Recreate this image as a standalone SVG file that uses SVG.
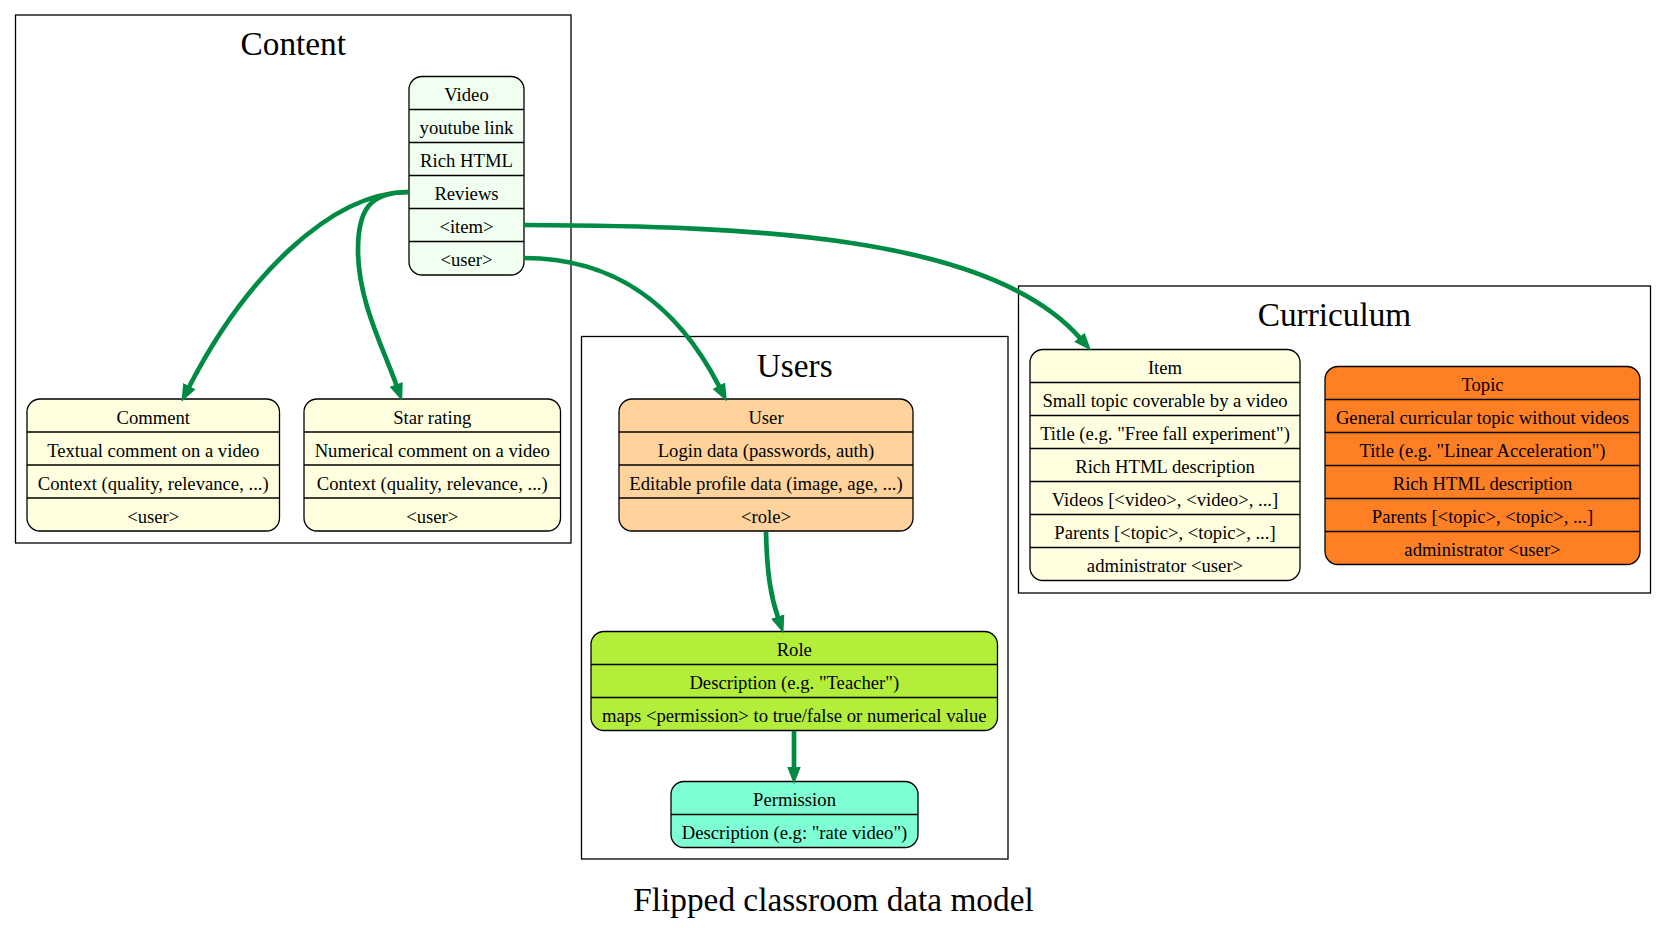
<svg xmlns="http://www.w3.org/2000/svg" width="1667" height="928" viewBox="0 0 1667 928">
<style>
.cluster{fill:none;stroke:#000;stroke-width:1.3}
.ctitle{font-family:"Liberation Serif","Times New Roman",serif;font-size:33.3px;text-anchor:middle;fill:#000}
.box{stroke:#000;stroke-width:1.3}
.sep{stroke:#000;stroke-width:1.3}
.t{font-family:"Liberation Serif","Times New Roman",serif;font-size:18.67px;text-anchor:middle;fill:#000}
.edge{fill:none;stroke:#008B45;stroke-width:4.7;marker-end:url(#arr)}
.honeydew{fill:#F0FFF0}
.lyellow{fill:#FFFFE0}
.burly{fill:#FFD39B}
.olive{fill:#B3EE3A}
.aqua{fill:#7FFFD4}
.choc{fill:#FF7F24}
</style>
<defs>
<marker id="arr" markerUnits="userSpaceOnUse" viewBox="-1 -8 17 16" refX="0" refY="0" markerWidth="17" markerHeight="16" orient="auto">
<path d="M0,-5.5 L14,0 L0,5.5 z" fill="#008B45" stroke="#008B45" stroke-width="2"/>
</marker>
</defs>
<rect width="1667" height="928" fill="#fff"/>

<g id="cluster_content">
<rect class="cluster" x="15.5" y="15" width="555.5" height="528"/>
<text class="ctitle" x="293.25" y="55">Content</text>
</g>
<g id="cluster_users">
<rect class="cluster" x="581.5" y="336.5" width="426.5" height="522.5"/>
<text class="ctitle" x="794.75" y="376.5">Users</text>
</g>
<g id="cluster_curriculum">
<rect class="cluster" x="1018.5" y="286" width="632" height="307"/>
<text class="ctitle" x="1334.5" y="326">Curriculum</text>
</g>

<g id="video">
<rect class="box honeydew" x="409" y="76.5" width="115" height="198.5" rx="13"/>
<line class="sep" x1="409" y1="109.5" x2="524" y2="109.5"/>
<line class="sep" x1="409" y1="142.5" x2="524" y2="142.5"/>
<line class="sep" x1="409" y1="175.5" x2="524" y2="175.5"/>
<line class="sep" x1="409" y1="208.5" x2="524" y2="208.5"/>
<line class="sep" x1="409" y1="241.5" x2="524" y2="241.5"/>
<text class="t" x="466.5" y="101">Video</text>
<text class="t" x="466.5" y="134">youtube link</text>
<text class="t" x="466.5" y="167">Rich HTML</text>
<text class="t" x="466.5" y="200">Reviews</text>
<text class="t" x="466.5" y="233">&lt;item&gt;</text>
<text class="t" x="466.5" y="266">&lt;user&gt;</text>
</g>

<g id="comment">
<rect class="box lyellow" x="27" y="399" width="252.5" height="132" rx="13"/>
<line class="sep" x1="27" y1="432" x2="279.5" y2="432"/>
<line class="sep" x1="27" y1="465" x2="279.5" y2="465"/>
<line class="sep" x1="27" y1="498" x2="279.5" y2="498"/>
<text class="t" x="153.25" y="423.5">Comment</text>
<text class="t" x="153.25" y="456.5">Textual comment on a video</text>
<text class="t" x="153.25" y="489.5">Context (quality, relevance, ...)</text>
<text class="t" x="153.25" y="522.5">&lt;user&gt;</text>
</g>

<g id="star_rating">
<rect class="box lyellow" x="304" y="399" width="256.5" height="132" rx="13"/>
<line class="sep" x1="304" y1="432" x2="560.5" y2="432"/>
<line class="sep" x1="304" y1="465" x2="560.5" y2="465"/>
<line class="sep" x1="304" y1="498" x2="560.5" y2="498"/>
<text class="t" x="432.25" y="423.5">Star rating</text>
<text class="t" x="432.25" y="456.5">Numerical comment on a video</text>
<text class="t" x="432.25" y="489.5">Context (quality, relevance, ...)</text>
<text class="t" x="432.25" y="522.5">&lt;user&gt;</text>
</g>

<g id="user">
<rect class="box burly" x="619" y="399" width="294" height="132" rx="13"/>
<line class="sep" x1="619" y1="432" x2="913" y2="432"/>
<line class="sep" x1="619" y1="465" x2="913" y2="465"/>
<line class="sep" x1="619" y1="498" x2="913" y2="498"/>
<text class="t" x="766" y="423.5">User</text>
<text class="t" x="766" y="456.5">Login data (passwords, auth)</text>
<text class="t" x="766" y="489.5">Editable profile data (image, age, ...)</text>
<text class="t" x="766" y="522.5">&lt;role&gt;</text>
</g>

<g id="role">
<rect class="box olive" x="591" y="631.5" width="406.5" height="99" rx="13"/>
<line class="sep" x1="591" y1="664.5" x2="997.5" y2="664.5"/>
<line class="sep" x1="591" y1="697.5" x2="997.5" y2="697.5"/>
<text class="t" x="794.25" y="656">Role</text>
<text class="t" x="794.25" y="689">Description (e.g. "Teacher")</text>
<text class="t" x="794.25" y="722">maps &lt;permission&gt; to true/false or numerical value</text>
</g>

<g id="permission">
<rect class="box aqua" x="671" y="781.5" width="247" height="66" rx="13"/>
<line class="sep" x1="671" y1="814.5" x2="918" y2="814.5"/>
<text class="t" x="794.5" y="806">Permission</text>
<text class="t" x="794.5" y="839">Description (e.g: "rate video")</text>
</g>

<g id="item">
<rect class="box lyellow" x="1030" y="349.5" width="270" height="231" rx="13"/>
<line class="sep" x1="1030" y1="382.5" x2="1300" y2="382.5"/>
<line class="sep" x1="1030" y1="415.5" x2="1300" y2="415.5"/>
<line class="sep" x1="1030" y1="448.5" x2="1300" y2="448.5"/>
<line class="sep" x1="1030" y1="481.5" x2="1300" y2="481.5"/>
<line class="sep" x1="1030" y1="514.5" x2="1300" y2="514.5"/>
<line class="sep" x1="1030" y1="547.5" x2="1300" y2="547.5"/>
<text class="t" x="1165" y="374">Item</text>
<text class="t" x="1165" y="407">Small topic coverable by a video</text>
<text class="t" x="1165" y="440">Title (e.g. "Free fall experiment")</text>
<text class="t" x="1165" y="473">Rich HTML description</text>
<text class="t" x="1165" y="506">Videos [&lt;video&gt;, &lt;video&gt;, ...]</text>
<text class="t" x="1165" y="539">Parents [&lt;topic&gt;, &lt;topic&gt;, ...]</text>
<text class="t" x="1165" y="572">administrator &lt;user&gt;</text>
</g>

<g id="topic">
<rect class="box choc" x="1325" y="366.5" width="315" height="198" rx="13"/>
<line class="sep" x1="1325" y1="399.5" x2="1640" y2="399.5"/>
<line class="sep" x1="1325" y1="432.5" x2="1640" y2="432.5"/>
<line class="sep" x1="1325" y1="465.5" x2="1640" y2="465.5"/>
<line class="sep" x1="1325" y1="498.5" x2="1640" y2="498.5"/>
<line class="sep" x1="1325" y1="531.5" x2="1640" y2="531.5"/>
<text class="t" x="1482.5" y="391">Topic</text>
<text class="t" x="1482.5" y="424">General curricular topic without videos</text>
<text class="t" x="1482.5" y="457">Title (e.g. "Linear Acceleration")</text>
<text class="t" x="1482.5" y="490">Rich HTML description</text>
<text class="t" x="1482.5" y="523">Parents [&lt;topic&gt;, &lt;topic&gt;, ...]</text>
<text class="t" x="1482.5" y="556">administrator &lt;user&gt;</text>
</g>

<g id="edges">
<path class="edge" d="M408,192 C330,193 245,278 189,387"/>
<path class="edge" d="M408,192 C368,192 358,212 358,250 C358,300 382,345 396.5,385.3"/>
<path class="edge" d="M524,225 C750,226 990,235 1080,338"/>
<path class="edge" d="M524,258 C620,258 680,310 719.3,386.6"/>
<path class="edge" d="M766,532 C767,575 771,597 778,617.5"/>
<path class="edge" d="M794,731 L794,767.5"/>
</g>

<text class="ctitle" x="833.5" y="911">Flipped classroom data model</text>
</svg>
